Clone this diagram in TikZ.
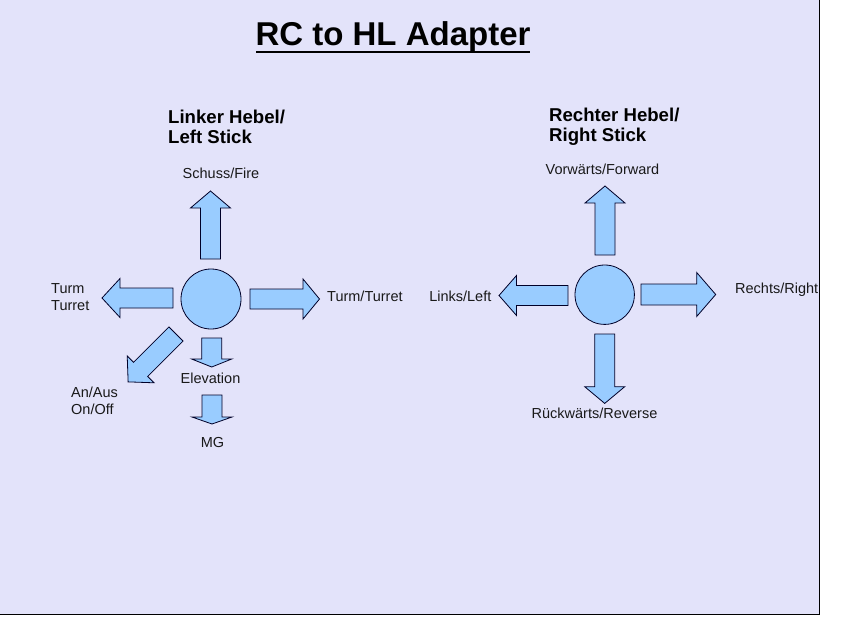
\documentclass[tikz,border=0pt]{standalone}
\usepackage{fontspec}
\setmainfont{Liberation Sans}
\definecolor{bgc}{RGB}{227,227,250}
\definecolor{fillc}{RGB}{153,204,255}
\definecolor{linec}{RGB}{0,0,40}
\definecolor{txtc}{RGB}{25,25,25}
\newcommand\blockarrow[7]{%
  \draw[blockarrow, shift={(#1,#2)}, rotate=#3]
    (0,-#6) -- (#4,-#6) -- (#4,-#7) -- ({#4+#5},0) -- (#4,#7) -- (#4,#6) -- (0,#6) -- cycle;}
\begin{document}
\begin{tikzpicture}[x=1pt,y=-1pt,
  blockarrow/.style={fill=fillc, draw=linec, line width=0.8pt, line join=miter},
  knob/.style={circle, fill=fillc, draw=linec, line width=0.8pt, inner sep=0pt},
  lbl/.style={inner sep=0pt, text=txtc, font=\fontsize{14.5}{17}\selectfont},
  head/.style={inner sep=0pt, text=black, align=left, anchor=west, font=\fontsize{18.6}{20}\selectfont\bfseries},
  ttl/.style={inner sep=0pt, text=black, font=\fontsize{33}{36}\selectfont\bfseries}]
\useasboundingbox (0,0) rectangle (850,616);
\fill[white] (0,0) rectangle (850,616);
\fill[bgc] (0,0) rectangle (820,615);
\draw[black, line width=1.5pt] (0,614.5) -- (819.5,614.5) -- (819.5,0);
% title
\node[ttl] (title) at (393,37) {RC to HL Adapter};
\draw[black, line width=2pt] (256,52) -- (530,52);
% headings
\node[head] (hl) at (168,127) {Linker Hebel/\\Left Stick};
\node[head] (hr) at (549,127) {Rechter Hebel/\\Right Stick};
% left stick
\node[knob, minimum size=60pt] (kl) at (211,299) {};
\blockarrow{210.5}{259}{90}{51}{17}{10}{20}
\blockarrow{173}{298}{180}{53}{18}{10}{19.5}
\blockarrow{250}{299}{0}{53}{16.5}{10}{20}
\blockarrow{176}{334}{225}{50}{17.7}{10}{19}
\blockarrow{211.7}{338}{270}{21}{8}{10}{20}
\blockarrow{212}{395}{270}{22}{7}{10}{20}
\node[lbl] (fire) at (221,173) {Schuss/Fire};
\node[lbl, align=left, anchor=west] (turml) at (51,297) {Turm\\Turret};
\node[lbl, anchor=west] (turmr) at (327,296) {Turm/Turret};
\node[lbl, align=left, anchor=west] (onoff) at (71,400.5) {An/Aus\\On/Off};
\node[lbl] (elev) at (210.5,378) {Elevation};
\node[lbl] (mg) at (212.5,442) {MG};
% right stick
\node[knob, minimum size=59.4pt] (kr) at (604.7,294.7) {};
\blockarrow{605}{255}{90}{52}{17}{10}{20}
\blockarrow{568}{295.5}{180}{51.5}{17.5}{10}{20}
\blockarrow{641}{294.5}{0}{55.7}{19}{10.5}{22}
\blockarrow{604.7}{334}{270}{52.7}{16.7}{10}{20}
\node[lbl] (fwd) at (602.5,169.3) {Vorwärts/Forward};
\node[lbl] (left) at (460.3,296) {Links/Left};
\node[lbl] (right) at (776.7,290) {Rechts/Right};
\node[lbl] (rev) at (594.5,413.3) {Rückwärts/Reverse};
\end{tikzpicture}
\end{document}
